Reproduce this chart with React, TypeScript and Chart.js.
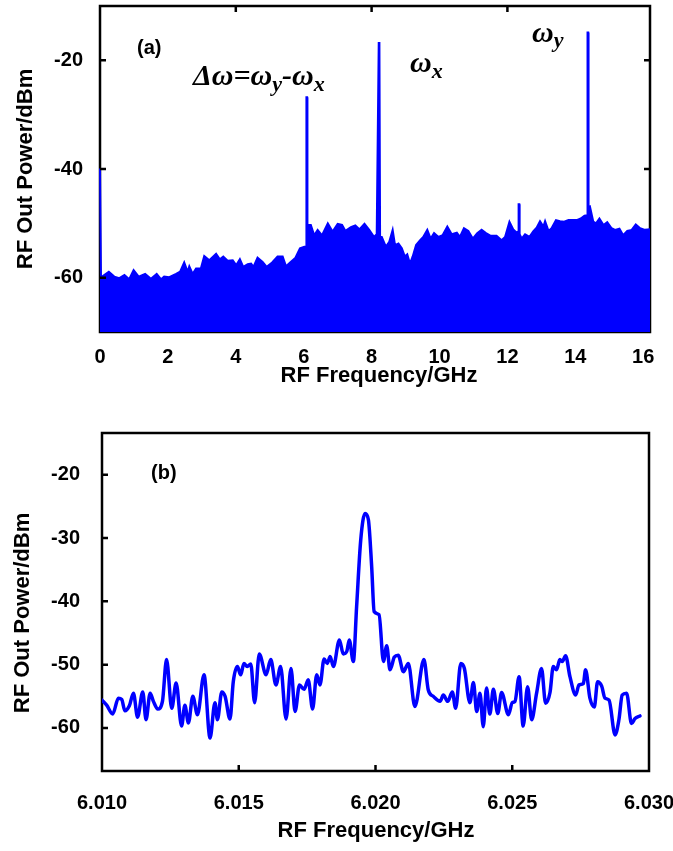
import React, { useEffect, useRef } from "react";
import { Chart, registerables } from "chart.js";

Chart.register(...registerables);

// ---------------- Panel (a): wide RF spectrum ----------------
const freqA = [
  0.0, 0.03, 0.08, 0.26, 0.42, 0.57, 0.72, 0.86, 0.99, 1.14, 1.33, 1.5, 1.67, 1.8, 1.89, 2.04,
  2.24, 2.36, 2.48, 2.58, 2.63, 2.73, 2.83, 2.97, 3.07, 3.22, 3.42, 3.53, 3.63, 3.76, 3.91, 4.01,
  4.12, 4.22, 4.35, 4.45, 4.52, 4.64, 4.79, 4.91, 5.07, 5.23, 5.38, 5.48, 5.6, 5.75, 5.89, 6.02,
  6.07, 6.08, 6.1, 6.11, 6.21, 6.31, 6.41, 6.54, 6.71, 6.85, 7.0, 7.13, 7.23, 7.39, 7.52, 7.64,
  7.79, 7.93, 8.07, 8.15, 8.21, 8.23, 8.25, 8.3, 8.42, 8.52, 8.62, 8.69, 8.79, 8.89, 8.98, 9.05,
  9.13, 9.21, 9.31, 9.43, 9.52, 9.64, 9.74, 9.84, 9.97, 10.09, 10.23, 10.36, 10.51, 10.6, 10.72, 10.85,
  10.98, 11.11, 11.24, 11.37, 11.51, 11.68, 11.83, 11.93, 12.06, 12.18, 12.27, 12.32, 12.33, 12.35, 12.36, 12.42,
  12.52, 12.65, 12.76, 12.86, 12.96, 13.06, 13.11, 13.21, 13.3, 13.43, 13.55, 13.67, 13.8, 13.92, 14.04, 14.16,
  14.27, 14.35, 14.36, 14.38, 14.39, 14.43, 14.53, 14.61, 14.71, 14.83, 14.94, 15.07, 15.17, 15.3, 15.41, 15.53,
  15.66, 15.78, 15.91, 16.05, 16.2,
];
const powerA = [
  -39.9, -60.5, -59.7, -58.9, -59.8, -60.1, -59.5, -60.3, -58.6, -59.8, -59.3, -60.2, -59.3, -60.3, -59.8, -59.9,
  -59.3, -58.9, -57.2, -58.9, -57.9, -59.3, -58.3, -58.3, -56.0, -56.8, -55.6, -56.6, -56.1, -56.9, -56.8, -57.7,
  -56.6, -58.0, -57.5, -57.4, -58.0, -56.3, -57.1, -58.0, -57.2, -56.1, -56.1, -57.9, -57.2, -56.4, -54.6, -54.3,
  -54.3, -26.8, -26.8, -50.3, -50.3, -52.2, -51.2, -52.2, -50.0, -51.5, -50.1, -50.3, -51.4, -50.7, -50.4, -51.1,
  -50.1, -51.2, -52.5, -52.0, -16.8, -16.8, -52.5, -52.5, -54.3, -53.4, -51.2, -54.0, -53.7, -54.6, -56.1, -55.7,
  -57.4, -56.1, -54.0, -53.1, -52.5, -51.2, -52.8, -51.8, -52.5, -52.2, -50.6, -52.0, -51.7, -52.5, -50.9, -51.4,
  -52.8, -51.8, -51.2, -51.8, -52.3, -52.3, -53.1, -52.5, -49.7, -51.2, -51.7, -51.5, -46.5, -46.5, -52.0, -52.8,
  -52.0, -52.5, -51.5, -50.8, -49.6, -50.6, -49.6, -51.4, -50.9, -49.4, -49.6, -49.7, -49.4, -49.4, -49.4, -49.1,
  -48.6, -48.5, -14.9, -14.9, -47.0, -46.9, -49.7, -50.0, -49.1, -50.3, -49.8, -50.9, -51.2, -51.0, -52.2, -51.4,
  -51.2, -50.2, -50.9, -51.2, -51.1,
];
const ticksAX = [0, 2, 4, 6, 8, 10, 12, 14, 16];
const ticksAY = [-60, -40, -20];
const topTicksAX = [4, 8, 12];
const rightTicksAY = [-40, -20];

// ---------------- Panel (b): zoom around 6.02 GHz ----------------
const freqB = [
  6.01, 6.01017, 6.01039, 6.0106, 6.01072, 6.01084, 6.011, 6.01115, 6.0113, 6.01149, 6.01161, 6.01176,
  6.01188, 6.01204, 6.01221, 6.01236, 6.01255, 6.01271, 6.01291, 6.01303, 6.01316, 6.01332, 6.01349, 6.01373,
  6.01395, 6.01413, 6.01422, 6.01438, 6.0145, 6.01468, 6.0148, 6.01495, 6.01507, 6.01519, 6.01531, 6.01544,
  6.01558, 6.01575, 6.016, 6.01617, 6.01636, 6.01653, 6.01673, 6.01691, 6.01706, 6.01722, 6.01739, 6.01754,
  6.0177, 6.01785, 6.01797, 6.01812, 6.01824, 6.01834, 6.01846, 6.01868, 6.01882, 6.01895, 6.01904, 6.01919,
  6.01931, 6.01946, 6.01962, 6.01974, 6.01986, 6.01995, 6.02013, 6.02029, 6.02041, 6.02053, 6.02069, 6.02083,
  6.02102, 6.0212, 6.02144, 6.02177, 6.02193, 6.02211, 6.02236, 6.02248, 6.02264, 6.02281, 6.02293, 6.02312,
  6.02325, 6.02345, 6.02358, 6.0237, 6.02382, 6.02394, 6.02406, 6.02418, 6.02431, 6.02447, 6.02461, 6.02486,
  6.025, 6.0251, 6.02525, 6.0254, 6.02556, 6.02571, 6.02589, 6.02607, 6.02622, 6.02638, 6.0265, 6.02662,
  6.02674, 6.02683, 6.02695, 6.02711, 6.02732, 6.02744, 6.0276, 6.02768, 6.02784, 6.028, 6.02812, 6.02827,
  6.02839, 6.02854, 6.02876, 6.0289, 6.02902, 6.02918, 6.02936, 6.02949, 6.02967,
];
const powerB = [
  -55.6, -56.4, -57.8, -55.3, -55.5, -57.3, -56.5, -54.5, -58.3, -54.3, -58.7, -54.5,
  -55.8, -57.0, -55.8, -49.2, -56.9, -52.9, -59.7, -56.4, -59.2, -55.0, -57.9, -51.6,
  -61.6, -56.0, -58.7, -54.3, -55.0, -58.6, -52.7, -50.3, -51.6, -49.8, -50.3, -49.9,
  -56.0, -48.3, -51.6, -49.2, -53.2, -50.3, -58.6, -50.6, -57.4, -53.2, -53.9, -52.4,
  -57.0, -51.6, -53.2, -49.1, -49.8, -48.7, -50.3, -46.1, -48.3, -47.9, -46.1, -49.5,
  -40.8, -30.3, -26.1, -27.1, -34.5, -41.6, -42.1, -49.5, -47.0, -50.8, -48.8, -48.5,
  -51.1, -49.8, -56.6, -49.2, -54.0, -55.0, -55.8, -54.8, -55.8, -54.3, -56.9, -49.8,
  -50.6, -56.0, -52.8, -57.4, -54.5, -59.8, -53.7, -57.8, -53.9, -57.7, -54.4, -57.9,
  -56.0, -55.8, -51.9, -59.7, -53.5, -58.7, -54.5, -50.6, -56.1, -54.4, -50.3, -50.8,
  -49.2, -49.5, -48.6, -51.9, -54.8, -53.2, -53.0, -50.8, -55.3, -56.7, -52.7, -53.4,
  -55.3, -55.6, -61.1, -58.7, -54.8, -54.5, -59.3, -58.5, -58.1,
];
const ticksBX = [6.01, 6.015, 6.02, 6.025, 6.03];
const ticksBY = [-60, -50, -40, -30, -20];
const bottomTicksBX = [6.015, 6.02, 6.025];

// ---------------- styling ----------------
const SANS = "'Liberation Sans', Arial, sans-serif";
const SERIF = "'Liberation Serif', 'Times New Roman', serif";
const BLUE = "#0000ff";
const TICK_FONT = { family: SANS, size: 20, weight: "bold" as const };
const TITLE_FONT = `bold 22px ${SANS}`;

type Seg = { t: string; size: number; dy: number };
type Label = {
  x: number;
  y: number;
  text?: string;
  font?: string;
  segs?: Seg[];
  rotate?: boolean;
  align?: CanvasTextAlign;
  baseline?: CanvasTextBaseline;
};

const decorPlugin = {
  id: "decor",
  beforeDatasetsDraw(chart: any) {
    const { ctx, chartArea: a } = chart;
    ctx.save();
    ctx.strokeStyle = "#000";
    ctx.lineWidth = 2.5;
    ctx.strokeRect(a.left, a.top, a.right - a.left, a.bottom - a.top);
    ctx.restore();
  },
  afterDatasetsDraw(chart: any, _args: any, opts: any) {
    const { ctx, chartArea: a, scales } = chart;
    const L = 6;
    ctx.save();
    ctx.strokeStyle = "#000";
    ctx.lineWidth = 2.5;
    ctx.beginPath();
    for (const v of opts.left || []) {
      const y = scales.y.getPixelForValue(v);
      ctx.moveTo(a.left, y);
      ctx.lineTo(a.left + L, y);
    }
    for (const v of opts.right || []) {
      const y = scales.y.getPixelForValue(v);
      ctx.moveTo(a.right, y);
      ctx.lineTo(a.right - L, y);
    }
    for (const v of opts.top || []) {
      const x = scales.x.getPixelForValue(v);
      ctx.moveTo(x, a.top);
      ctx.lineTo(x, a.top + L);
    }
    for (const v of opts.bottom || []) {
      const x = scales.x.getPixelForValue(v);
      ctx.moveTo(x, a.bottom);
      ctx.lineTo(x, a.bottom - L);
    }
    ctx.stroke();

    ctx.fillStyle = "#000";
    for (const lb of (opts.labels || []) as Label[]) {
      ctx.save();
      ctx.translate(lb.x, lb.y);
      if (lb.rotate) ctx.rotate(-Math.PI / 2);
      ctx.textAlign = lb.align || "left";
      ctx.textBaseline = lb.baseline || "alphabetic";
      if (lb.text) {
        ctx.font = lb.font;
        ctx.fillText(lb.text, 0, 0);
      } else if (lb.segs) {
        let cx = 0;
        ctx.textAlign = "left";
        for (const s of lb.segs) {
          ctx.font = `italic bold ${s.size}px ${SERIF}`;
          ctx.fillText(s.t, cx, s.dy);
          cx += ctx.measureText(s.t).width;
        }
      }
      ctx.restore();
    }
    ctx.restore();
  },
};

function xyPoints(xs: number[], ys: number[]) {
  return xs.map((x, i) => ({ x, y: ys[i] }));
}

function fitY(width: number) {
  return (s: any) => {
    s.width = width;
    s.paddingTop = 0;
    s.paddingBottom = 0;
    s.paddingLeft = 0;
    s.paddingRight = 0;
  };
}

function fitX(height: number) {
  return (s: any) => {
    s.height = height;
    s.paddingLeft = 0;
    s.paddingRight = 0;
    s.paddingTop = 0;
    s.paddingBottom = 0;
  };
}

function configA(): any {
  return {
    type: "line",
    data: {
      datasets: [
        {
          data: xyPoints(freqA, powerA),
          borderColor: BLUE,
          backgroundColor: BLUE,
          borderWidth: 2,
          pointRadius: 0,
          fill: "start",
          tension: 0,
          clip: 3,
        },
      ],
    },
    plugins: [decorPlugin],
    options: {
      responsive: false,
      animation: false,
      events: [],
      layout: { padding: { left: 0, right: 23, top: 6, bottom: 0 } },
      plugins: {
        legend: { display: false },
        tooltip: { enabled: false },
        decor: {
          left: ticksAY,
          right: rightTicksAY,
          top: topTicksAX,
          labels: [
            { x: 26, y: 169, text: "RF Out Power/dBm", font: TITLE_FONT, rotate: true, align: "center", baseline: "middle" },
            { x: 379, y: 382, text: "RF Frequency/GHz", font: TITLE_FONT, align: "center" },
            { x: 137, y: 48, text: "(a)", font: `bold 20px ${SANS}`, baseline: "middle" },
            {
              x: 193,
              y: 85,
              segs: [
                { t: "Δω=ω", size: 30, dy: 0 },
                { t: "y", size: 22, dy: 6 },
                { t: "-ω", size: 30, dy: 0 },
                { t: "x", size: 22, dy: 6 },
              ],
            },
            { x: 410, y: 72, segs: [{ t: "ω", size: 30, dy: 0 }, { t: "x", size: 22, dy: 6 }] },
            { x: 532, y: 42, segs: [{ t: "ω", size: 30, dy: 0 }, { t: "y", size: 22, dy: 5 }] },
          ],
        },
      },
      scales: {
        x: {
          type: "linear",
          min: 0,
          max: 16.2,
          afterBuildTicks: (s: any) => {
            s.ticks = ticksAX.map((v) => ({ value: v }));
          },
          afterFit: fitX(88),
          grid: { display: false, drawTicks: false },
          border: { display: false },
          ticks: {
            font: TICK_FONT,
            color: "#000",
            padding: 13,
            autoSkip: false,
            maxRotation: 0,
            callback: (v: any) => String(v),
          },
        },
        y: {
          type: "linear",
          min: -70,
          max: -10,
          afterBuildTicks: (s: any) => {
            s.ticks = ticksAY.map((v) => ({ value: v }));
          },
          afterFit: fitY(100),
          grid: { display: false, drawTicks: false },
          border: { display: false },
          ticks: { font: TICK_FONT, color: "#000", padding: 17, callback: (v: any) => String(v) },
        },
      },
    },
  };
}

function configB(): any {
  return {
    type: "line",
    data: {
      datasets: [
        {
          data: xyPoints(freqB, powerB),
          borderColor: BLUE,
          backgroundColor: BLUE,
          borderWidth: 3.5,
          pointRadius: 0,
          fill: false,
          cubicInterpolationMode: "monotone",
          borderJoinStyle: "round",
          borderCapStyle: "round",
        },
      ],
    },
    plugins: [decorPlugin],
    options: {
      responsive: false,
      animation: false,
      events: [],
      layout: { padding: { left: 0, right: 24, top: 13, bottom: 0 } },
      plugins: {
        legend: { display: false },
        tooltip: { enabled: false },
        decor: {
          left: ticksBY,
          bottom: bottomTicksBX,
          labels: [
            { x: 23, y: 193, text: "RF Out Power/dBm", font: TITLE_FONT, rotate: true, align: "center", baseline: "middle" },
            { x: 376, y: 417, text: "RF Frequency/GHz", font: TITLE_FONT, align: "center" },
            { x: 151, y: 53, text: "(b)", font: `bold 20px ${SANS}`, baseline: "middle" },
          ],
        },
      },
      scales: {
        x: {
          type: "linear",
          min: 6.01,
          max: 6.03,
          afterBuildTicks: (s: any) => {
            s.ticks = ticksBX.map((v) => ({ value: v }));
          },
          afterFit: fitX(80),
          grid: { display: false, drawTicks: false },
          border: { display: false },
          ticks: {
            font: TICK_FONT,
            color: "#000",
            padding: 20,
            autoSkip: false,
            maxRotation: 0,
            callback: (v: any) => Number(v).toFixed(3),
          },
        },
        y: {
          type: "linear",
          min: -66.8,
          max: -13.4,
          afterBuildTicks: (s: any) => {
            s.ticks = ticksBY.map((v) => ({ value: v }));
          },
          afterFit: fitY(102),
          grid: { display: false, drawTicks: false },
          border: { display: false },
          ticks: { font: TICK_FONT, color: "#000", padding: 22, callback: (v: any) => String(v) },
        },
      },
    },
  };
}

export default function App() {
  const refA = useRef<HTMLCanvasElement>(null);
  const refB = useRef<HTMLCanvasElement>(null);

  useEffect(() => {
    const a = new Chart(refA.current as HTMLCanvasElement, configA());
    const b = new Chart(refB.current as HTMLCanvasElement, configB());
    return () => {
      a.destroy();
      b.destroy();
    };
  }, []);

  return (
    <div style={{ position: "absolute", left: 0, top: 0, width: 673, height: 851, background: "#fff" }}>
      <canvas ref={refA} width={673} height={420} style={{ position: "absolute", left: 0, top: 0 }} />
      <canvas ref={refB} width={673} height={431} style={{ position: "absolute", left: 0, top: 420 }} />
    </div>
  );
}
